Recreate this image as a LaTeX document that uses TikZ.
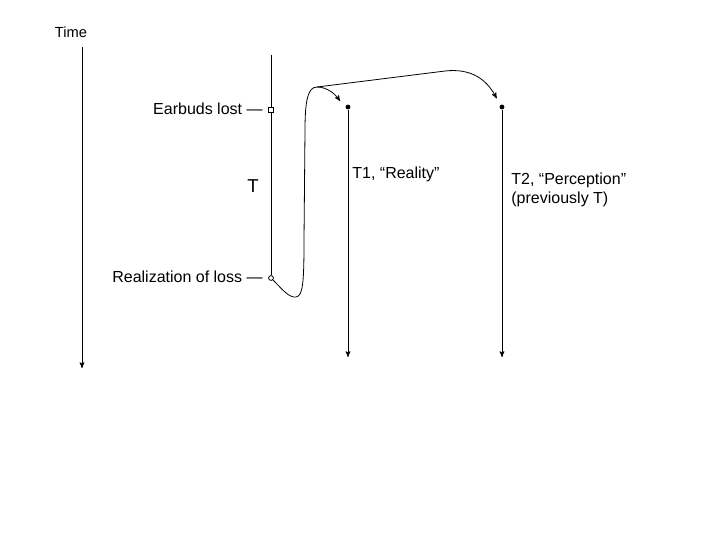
\documentclass[tikz,border=0pt]{standalone}
\usepackage{fontspec}
\setmainfont{Liberation Sans}
\usetikzlibrary{positioning, arrows}
\tikzstyle{timeline} = [draw, -stealth']
\tikzstyle{label} = [inner sep=0pt, font=\fontsize{12}{14.5}\selectfont]
\tikzstyle{dotmark} = [circle, fill=black, inner sep=0pt, minimum size=3.6pt]

\begin{document}
\begin{tikzpicture}[x=0.75pt,y=-0.75pt,line width=0.6pt]
\useasboundingbox (0,0) rectangle (720,540);
% time axis
\node[label, font=\fontsize{11}{13}\selectfont] (time) at (71,32) {Time};
\coordinate (timetop) at (82,47);
\coordinate (timeend) at (82,368);
\draw[timeline] (timetop) -- (timeend);
% original duration T
\coordinate (ttop) at (271,55);
\node[draw, rectangle, fill=white, inner sep=0pt, minimum size=3.2pt] (lost) at (271,110) {};
\node[draw, circle, fill=white, inner sep=0pt, minimum size=3.6pt] (real) at (271,278) {};
\draw (ttop) -- (lost) -- (real);
\node[label, anchor=east] (lostlabel) at (263,109) {Earbuds lost —};
\node[label, anchor=east] (reallabel) at (263,277) {Realization of loss —};
\node[label, font=\fontsize{14}{16}\selectfont] (tlabel) at (253,186) {T};
% split into two times
\coordinate (turn) at (317,87);
\node[dotmark] (onetop) at (348,107) {};
\node[dotmark] (twotop) at (502,107) {};
\draw (real) .. controls (282,289) and (289,298) .. (296,297) .. controls (303,296) and (304,282) .. (304,240) -- (305,130) .. controls (305,100) and (308,87) .. (turn);
\draw[timeline] (turn) .. controls (328,87) and (336,95) .. ([xshift=-4.5pt,yshift=3pt]onetop.north west);
\draw[timeline] (turn) -- (445,71) .. controls (472,68) and (487,80) .. ([xshift=-2.5pt,yshift=5pt]twotop.north west);
\coordinate (oneend) at (348,357);
\coordinate (twoend) at (502,357);
\draw[timeline] (onetop) -- (oneend);
\draw[timeline] (twotop) -- (twoend);
\node[label, anchor=west] (onelabel) at (352,174) {T1, “Reality”};
\node[label, anchor=north west, align=left] (twolabel) at (511,172) {T2, “Perception”\\(previously T)};
\end{tikzpicture}
\end{document}
